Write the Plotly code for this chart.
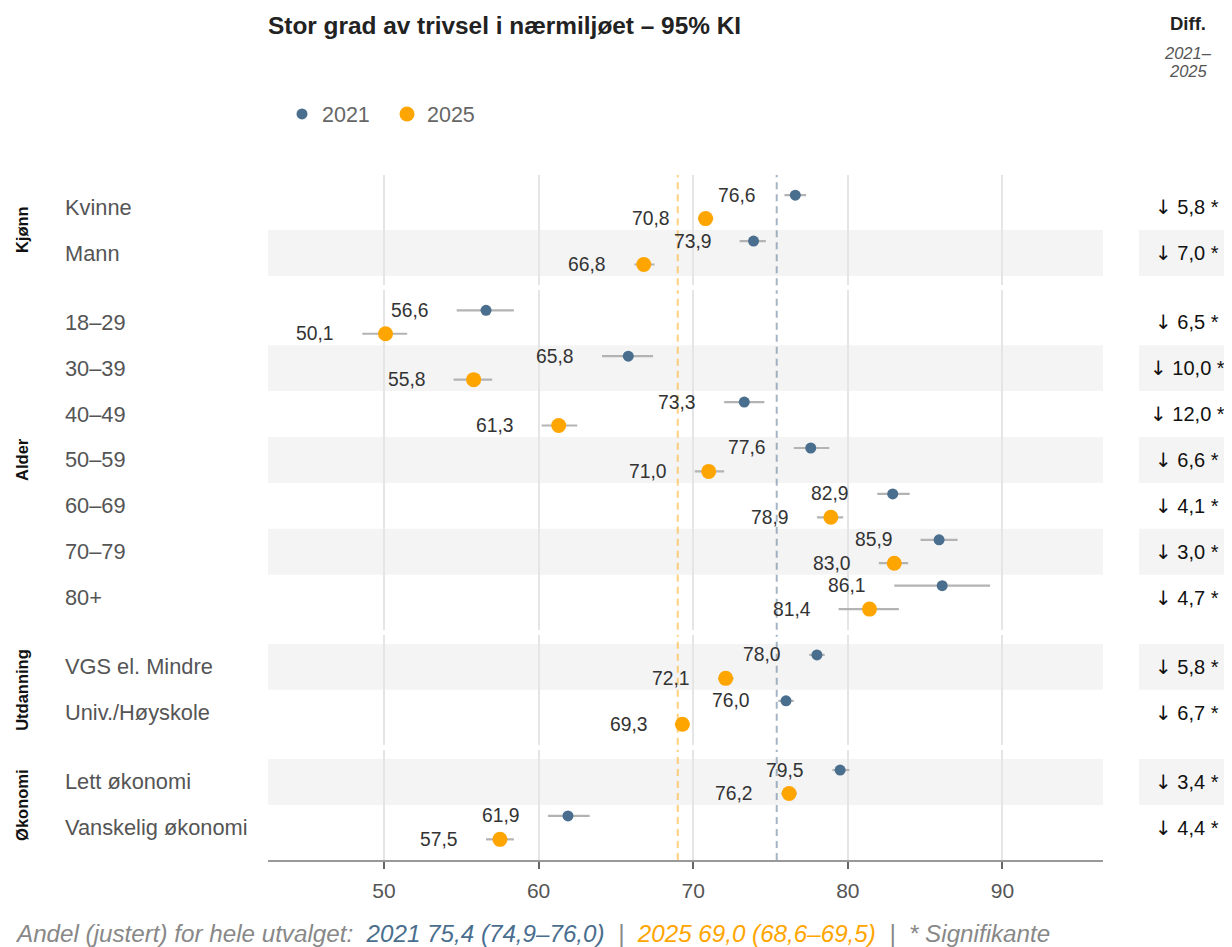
import plotly.graph_objects as go

# ---------------- data ----------------
groups = ["Kjønn", "Alder", "Utdanning", "Økonomi"]
categories = [
    ["Kvinne", "Mann"],
    ["18–29", "30–39", "40–49", "50–59", "60–69", "70–79", "80+"],
    ["VGS el. Mindre", "Univ./Høyskole"],
    ["Lett økonomi", "Vanskelig økonomi"],
]
val_2021 = [76.6, 73.9, 56.6, 65.8, 73.3, 77.6, 82.9, 85.9, 86.1, 78.0, 76.0, 79.5, 61.9]
lo_2021 = [75.9, 73.0, 54.7, 64.1, 72.0, 76.5, 81.9, 84.7, 83.0, 77.5, 75.5, 79.0, 60.6]
hi_2021 = [77.3, 74.7, 58.4, 67.4, 74.6, 78.8, 84.0, 87.1, 89.2, 78.5, 76.5, 80.1, 63.3]
val_2025 = [70.8, 66.8, 50.1, 55.8, 61.3, 71.0, 78.9, 83.0, 81.4, 72.1, 69.3, 76.2, 57.5]
lo_2025 = [70.3, 66.2, 48.6, 54.5, 60.2, 70.1, 78.0, 82.0, 79.4, 71.6, 68.9, 75.7, 56.6]
hi_2025 = [71.3, 67.5, 51.5, 57.0, 62.5, 72.0, 79.7, 83.9, 83.3, 72.6, 69.7, 76.7, 58.4]
diff_values = [5.8, 7.0, 6.5, 10.0, 12.0, 6.6, 4.1, 3.0, 4.7, 5.8, 6.7, 3.4, 4.4]
significant = [True, True, True, True, True, True, True, True, True, True, True, True, True]
overall_2021 = [75.4, 74.9, 76.0]
overall_2025 = [69.0, 68.6, 69.5]
x_ticks = [50, 60, 70, 80, 90]
x_range = [42.5, 96.5]

# ---------------- style ----------------
C21 = "#4a6e8e"
C25 = "#ffa500"
CI_COL = "#b3b3b3"
BAND = "rgba(0,0,0,0.042)"
GRID = "#e5e5e5"
FONT = "Liberation Sans, Arial, sans-serif"

OFFSET = 8  # page margin of the browser body
W, H = 1232 - OFFSET, 947 - OFFSET
PLOT_L, PLOT_R, PLOT_T, PLOT_B = 268, 1103, 175, 860  # screen pixels
ML = PLOT_L - OFFSET
MR = W - (PLOT_R - OFFSET)
MT = PLOT_T - OFFSET
MB = H - (PLOT_B - OFFSET)
PW = W - ML - MR
PH = H - MT - MB
GAP = 5
PAD = 0.2
OFF21, OFF25 = -0.26, 0.25


def fmt(v):
    return f"{v:.1f}".replace(".", ",")


def px_x(px):
    return (px - OFFSET - ML) / PW


def px_y(py):
    return (H - MB - (py - OFFSET)) / PH


units = [len(c) + 2 * PAD for c in categories]
row_px = (PH - GAP * (len(categories) - 1)) / sum(units)
domains = []
top = PH
for u in units:
    h = u * row_px
    domains.append([max(0, (top - h) / PH), top / PH])
    top -= h + GAP

fig = go.Figure()
shapes = []
annotations = []
layout_axes = {}

g = 0
for k, cats in enumerate(categories):
    n = len(cats)
    xa = "x" if k == 0 else f"x{k+1}"
    ya = "y" if k == 0 else f"y{k+1}"
    idx = list(range(g, g + n))
    pos = list(range(n))

    # CI lines
    for vals_lo, vals_hi, off in [(lo_2021, hi_2021, OFF21), (lo_2025, hi_2025, OFF25)]:
        xs, ys = [], []
        for i, gi in zip(pos, idx):
            xs += [vals_lo[gi], vals_hi[gi], None]
            ys += [i + off, i + off, None]
        fig.add_trace(go.Scatter(x=xs, y=ys, mode="lines", xaxis=xa, yaxis=ya,
                                 line=dict(color=CI_COL, width=2.2),
                                 showlegend=False, hoverinfo="skip"))
    # points
    fig.add_trace(go.Scatter(x=[val_2021[gi] for gi in idx], y=[i + OFF21 for i in pos],
                             mode="markers", xaxis=xa, yaxis=ya, name="2021",
                             legendgroup="2021", showlegend=(k == 0),
                             marker=dict(color=C21, size=11)))
    fig.add_trace(go.Scatter(x=[val_2025[gi] for gi in idx], y=[i + OFF25 for i in pos],
                             mode="markers", xaxis=xa, yaxis=ya, name="2025",
                             legendgroup="2025", showlegend=(k == 0),
                             marker=dict(color=C25, size=15)))

    for i, gi in zip(pos, idx):
        # value labels
        annotations.append(dict(x=lo_2021[gi], y=i + OFF21, xref=xa, yref=ya, text=fmt(val_2021[gi]),
                                showarrow=False, xanchor="right", yanchor="middle", xshift=-26,
                                font=dict(size=19.3, color="#333333", family=FONT)))
        annotations.append(dict(x=lo_2025[gi], y=i + OFF25, xref=xa, yref=ya, text=fmt(val_2025[gi]),
                                showarrow=False, xanchor="right", yanchor="middle", xshift=-26,
                                font=dict(size=19.3, color="#333333", family=FONT)))
        # row labels
        annotations.append(dict(x=px_x(63), y=i, xref="paper", yref=ya, text=cats[i],
                                showarrow=False, xanchor="left", yanchor="middle",
                                font=dict(size=21.8, color="#555555", family=FONT)))
        # diff column
        arrow = "↓" if diff_values[gi] > 0 else "↑"
        star = " *" if significant[gi] else ""
        annotations.append(dict(x=px_x(1187), y=i, xref="paper", yref=ya,
                                text=f"<span style='font-family:DejaVu Sans'>{arrow}</span> {fmt(diff_values[gi])}{star}",
                                showarrow=False, xanchor="center", yanchor="middle",
                                font=dict(size=20, color="#111111", family=FONT)))
        # bands
        if gi % 2 == 1:
            shapes.append(dict(type="rect", xref=f"{xa} domain", yref=ya, x0=0, x1=1,
                               y0=i - 0.5, y1=i + 0.5, fillcolor=BAND, line=dict(width=0),
                               layer="below"))
            shapes.append(dict(type="rect", xref="paper", yref=ya, x0=px_x(1139), x1=px_x(1232),
                               y0=i - 0.5, y1=i + 0.5, fillcolor=BAND, line=dict(width=0),
                               layer="below"))

    # reference lines
    shapes.append(dict(type="line", xref=xa, yref=f"{ya} domain", x0=overall_2021[0], x1=overall_2021[0],
                       y0=0, y1=1, line=dict(color="rgba(74,110,142,0.5)", width=2, dash="7px,5px"),
                       layer="below"))
    shapes.append(dict(type="line", xref=xa, yref=f"{ya} domain", x0=overall_2025[0], x1=overall_2025[0],
                       y0=0, y1=1, line=dict(color="rgba(255,165,0,0.5)", width=2, dash="7px,5px"),
                       layer="below"))

    # group label
    annotations.append(dict(x=px_x(22), y=0.5, xref="paper", yref=f"{ya} domain", text=f"<b>{groups[k]}</b>",
                            showarrow=False, textangle=-90, xanchor="center", yanchor="middle",
                            font=dict(size=16.5, color="#111111", family=FONT)))

    last = (k == len(categories) - 1)
    xkey = "xaxis" if k == 0 else f"xaxis{k+1}"
    ykey = "yaxis" if k == 0 else f"yaxis{k+1}"
    layout_axes[xkey] = dict(anchor=ya, domain=[0, 1], range=x_range, tickvals=x_ticks,
                             showgrid=True, gridcolor=GRID, gridwidth=1.5, zeroline=False,
                             showticklabels=last, ticks="outside" if last else "",
                             ticklen=7, tickwidth=1.5, tickcolor="#666666",
                             showline=last, linecolor="#999999", linewidth=1.5,
                             ticklabelstandoff=4,
                             tickfont=dict(size=21, color="#555555", family=FONT),
                             fixedrange=True)
    if k > 0:
        layout_axes[xkey]["matches"] = "x"
    layout_axes[ykey] = dict(anchor=xa, domain=domains[k], range=[n - 0.5 + PAD, -0.5 - PAD],
                             showgrid=False, zeroline=False, showticklabels=False, fixedrange=True)
    g += n

# title and header
annotations.append(dict(x=px_x(266), y=px_y(25), xref="paper", yref="paper",
                        text="<b>Stor grad av trivsel i nærmiljøet – 95% KI</b>", showarrow=False,
                        xanchor="left", yanchor="middle", font=dict(size=24.4, color="#222222", family=FONT)))
annotations.append(dict(x=px_x(1188), y=px_y(24), xref="paper", yref="paper", text="<b>Diff.</b>",
                        showarrow=False, xanchor="center", yanchor="middle",
                        font=dict(size=18.5, color="#222222", family=FONT)))
annotations.append(dict(x=px_x(1188), y=px_y(53), xref="paper", yref="paper", text="<i>2021–</i>",
                        showarrow=False, xanchor="center", yanchor="middle",
                        font=dict(size=16.5, color="#555555", family=FONT)))
annotations.append(dict(x=px_x(1188), y=px_y(71), xref="paper", yref="paper", text="<i>2025</i>",
                        showarrow=False, xanchor="center", yanchor="middle",
                        font=dict(size=16.5, color="#555555", family=FONT)))

# footer
o21 = f"2021 {fmt(overall_2021[0])} ({fmt(overall_2021[1])}–{fmt(overall_2021[2])})"
o25 = f"2025 {fmt(overall_2025[0])} ({fmt(overall_2025[1])}–{fmt(overall_2025[2])})"
footer = (f"<i>Andel (justert) for hele utvalget:  <span style='color:{C21}'>{o21}</span>"
          f"  |  <span style='color:{C25}'>{o25}</span>  |  * Signifikante</i>")
annotations.append(dict(x=px_x(13), y=px_y(933), xref="paper", yref="paper", text=footer,
                        showarrow=False, xanchor="left", yanchor="middle",
                        font=dict(size=24.2, color="#888888", family=FONT)))

fig.update_layout(
    width=W, height=H,
    margin=dict(l=ML, r=MR, t=MT, b=MB, autoexpand=False),
    paper_bgcolor="white", plot_bgcolor="white",
    font=dict(family=FONT),
    shapes=shapes, annotations=annotations,
    showlegend=True,
    legend=dict(orientation="h", x=px_x(282), y=px_y(114), xanchor="left", yanchor="middle",
                font=dict(size=21.5, color="#666666", family=FONT), bgcolor="rgba(0,0,0,0)",
                itemsizing="trace", entrywidth=60),
    **layout_axes,
)

fig.write_html("out.html")
